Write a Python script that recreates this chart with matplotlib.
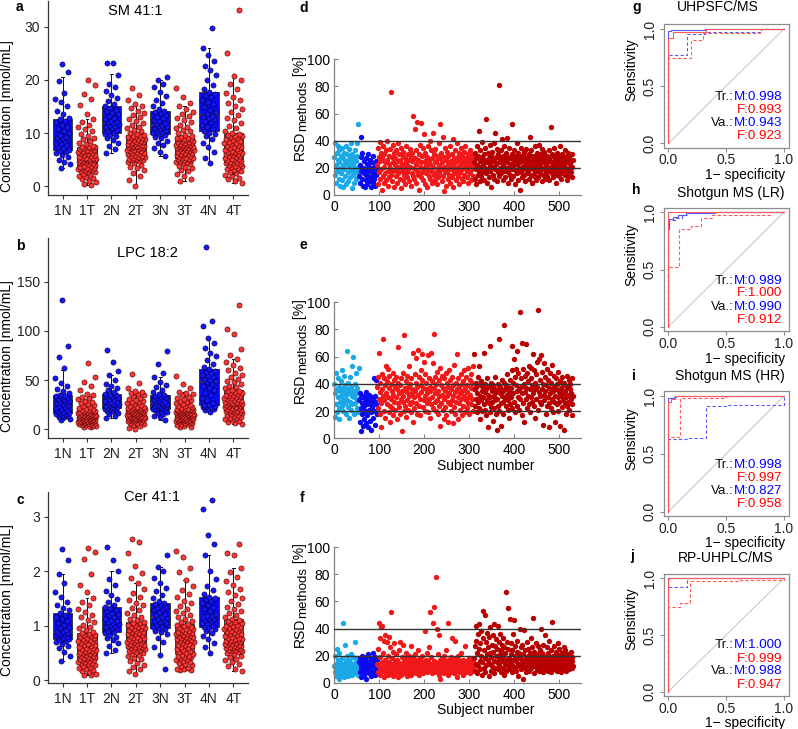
import numpy as np
import matplotlib.pyplot as plt

plt.rcParams['font.family'] = ['Liberation Sans', 'DejaVu Sans']
plt.rcParams['font.size'] = 10

# ---------------- data ----------------
groups = ['1N', '1T', '2N', '2T', '3N', '3T', '4N', '4T']

# panel a: SM 41:1
a1N = [3.4, 4.1, 4.6, 5.0, 5.5, 5.9, 6.2, 6.5, 6.7, 6.9, 7.1, 7.4, 7.7, 8.0, 8.2, 8.5, 8.7, 8.9, 9.0, 9.1,
       9.3, 9.7, 10.0, 10.4, 10.8, 11.2, 11.6, 12.0, 12.3, 12.6, 12.9, 13.5, 14.2, 15.0, 15.8, 16.4, 17.5, 19.8, 21.4, 23.0]
a1T = [0.2, 0.5, 0.8, 1.0, 1.3, 1.5, 1.8, 2.0, 2.2, 2.4, 2.6, 2.7, 2.9, 3.0, 3.1, 3.2, 3.3, 3.4, 3.5, 3.5,
       3.6, 3.8, 3.9, 4.0, 4.1, 4.3, 4.4, 4.5, 4.6, 4.7, 4.8, 4.9, 5.0, 5.0, 5.1, 5.1, 5.2, 5.2, 5.3, 5.3,
       5.4, 5.5, 5.7, 5.8, 5.9, 6.0, 6.2, 6.3, 6.4, 6.5, 6.6, 6.7, 6.8, 6.9, 7.0, 7.1, 7.2, 7.3, 7.3, 7.4,
       7.6, 7.9, 8.2, 8.5, 8.8, 9.1, 9.5, 9.9, 10.3, 10.7, 11.1, 11.6, 12.1, 12.6, 13.5, 15.2, 16.4, 17.3, 19.1, 20.0]
a2N = [6.2, 7.0, 7.6, 8.2, 8.7, 9.1, 9.4, 9.7, 9.9, 10.1, 10.3, 10.6, 10.9, 11.1, 11.3, 11.5, 11.7, 11.9, 12.0, 12.1,
       12.3, 12.6, 12.9, 13.2, 13.5, 13.8, 14.1, 14.4, 14.7, 15.0, 15.4, 16.0, 16.6, 17.2, 17.9, 18.6, 19.3, 21.0, 23.1, 23.2]
a2T = [0.0, 1.2, 1.9, 2.5, 3.0, 3.4, 3.7, 4.0, 4.3, 4.5, 4.7, 4.9, 5.0, 5.1, 5.2, 5.3, 5.4, 5.5, 5.5, 5.6,
       5.7, 5.8, 6.0, 6.1, 6.2, 6.3, 6.5, 6.6, 6.7, 6.8, 6.9, 7.0, 7.1, 7.2, 7.3, 7.4, 7.4, 7.5, 7.5, 7.6,
       7.7, 7.8, 7.9, 8.0, 8.1, 8.2, 8.3, 8.4, 8.5, 8.6, 8.7, 8.8, 8.9, 9.0, 9.1, 9.2, 9.3, 9.4, 9.5, 9.6,
       9.8, 10.0, 10.3, 10.6, 10.9, 11.2, 11.5, 11.9, 12.2, 12.6, 13.0, 13.4, 13.8, 14.2, 14.7, 15.1, 15.5, 16.3, 17.1, 18.4]
a3N = [5.6, 6.4, 7.1, 7.7, 8.2, 8.6, 9.0, 9.3, 9.6, 9.8, 10.0, 10.2, 10.4, 10.6, 10.8, 11.0, 11.1, 11.3, 11.4, 11.5,
       11.7, 11.9, 12.2, 12.5, 12.8, 13.1, 13.4, 13.7, 13.9, 14.1, 14.5, 15.0, 15.6, 16.3, 17.0, 17.8, 18.6, 19.3, 19.9, 20.6]
a3T = [0.9, 1.4, 1.9, 2.4, 2.8, 3.1, 3.4, 3.7, 3.9, 4.1, 4.3, 4.5, 4.6, 4.8, 4.9, 5.0, 5.1, 5.2, 5.3, 5.3,
       5.4, 5.5, 5.7, 5.8, 5.9, 6.0, 6.1, 6.2, 6.3, 6.5, 6.6, 6.7, 6.8, 6.9, 7.0, 7.1, 7.1, 7.2, 7.2, 7.3,
       7.4, 7.5, 7.6, 7.7, 7.7, 7.8, 7.9, 8.0, 8.1, 8.2, 8.3, 8.4, 8.5, 8.6, 8.7, 8.8, 8.8, 8.9, 9.0, 9.0,
       9.2, 9.4, 9.7, 10.0, 10.3, 10.6, 10.9, 11.2, 11.6, 12.0, 12.4, 12.8, 13.2, 13.6, 14.0, 14.5, 15.0, 15.6, 16.8, 18.5]
a4N = [4.3, 5.3, 6.4, 7.3, 8.1, 8.8, 9.4, 9.8, 10.1, 10.4, 10.8, 11.2, 11.6, 12.0, 12.3, 12.6, 12.9, 13.1, 13.3, 13.5,
       13.9, 14.4, 14.9, 15.4, 15.9, 16.3, 16.7, 17.1, 17.4, 17.7, 18.3, 19.1, 20.0, 20.9, 21.8, 22.6, 23.5, 24.6, 25.9, 29.8]
a4T = [0.7, 1.0, 1.3, 1.6, 1.9, 2.2, 2.5, 2.7, 2.9, 3.1, 3.3, 3.5, 3.6, 3.8, 3.9, 4.0, 4.1, 4.3, 4.4, 4.5,
       4.6, 4.7, 4.9, 5.0, 5.1, 5.2, 5.4, 5.5, 5.6, 5.7, 5.9, 6.0, 6.1, 6.2, 6.3, 6.4, 6.5, 6.6, 6.7, 6.8,
       7.0, 7.1, 7.3, 7.4, 7.6, 7.8, 7.9, 8.1, 8.2, 8.4, 8.6, 8.7, 8.9, 9.1, 9.2, 9.4, 9.5, 9.7, 9.8, 10.0,
       10.4, 10.9, 11.4, 11.9, 12.4, 12.9, 13.4, 13.9, 14.5, 15.0, 15.6, 16.2, 16.8, 17.5, 18.3, 19.2, 20.0, 20.7, 25.1, 33.2]
a_med = [9.14, 5.26, 12.1, 7.6, 11.46, 7.3, 13.46, 6.83]
a_q1 = [6.9, 3.5, 10.1, 5.6, 9.83, 5.3, 10.4, 4.5]
a_q3 = [12.65, 7.4, 15.0, 9.6, 14.15, 9.0, 17.66, 9.96]
a_lo = [3.4, 0.2, 6.2, 0.0, 5.6, 0.9, 4.3, 0.7]
a_hi = [20.5, 12.6, 21.1, 15.5, 20.0, 15.0, 26.0, 20.7]

# panel b: LPC 18:2
b1N = [9.5, 10.8, 12.0, 13.0, 13.9, 14.7, 15.4, 16.0, 16.5, 16.9, 17.8, 18.8, 19.8, 20.8, 21.8, 22.8, 23.8, 24.8, 25.6, 26.4,
       27.3, 28.2, 29.1, 30.0, 30.9, 31.8, 32.7, 33.5, 34.2, 34.9, 36.5, 38.5, 41.0, 44.0, 47.0, 52.0, 62.0, 73.0, 85.0, 131.0]
b1T = [2.0, 2.6, 3.2, 3.7, 4.2, 4.6, 5.0, 5.4, 5.8, 6.1, 6.4, 6.7, 7.0, 7.3, 7.6, 7.8, 8.0, 8.2, 8.4, 8.5,
       8.8, 9.1, 9.4, 9.7, 10.0, 10.3, 10.6, 10.9, 11.2, 11.5, 11.8, 12.1, 12.4, 12.6, 12.8, 13.0, 13.2, 13.3, 13.4, 13.5,
       13.8, 14.1, 14.4, 14.7, 15.0, 15.3, 15.6, 15.9, 16.2, 16.5, 16.8, 17.1, 17.4, 17.7, 18.0, 18.3, 18.6, 18.9, 19.2, 19.6,
       20.3, 21.1, 22.0, 22.9, 23.8, 24.8, 25.8, 26.9, 28.0, 29.2, 30.5, 31.8, 33.2, 34.6, 36.0, 40.0, 44.0, 48.0, 53.0, 67.0]
b2N = [11.0, 13.5, 15.5, 17.0, 18.2, 19.0, 19.8, 20.4, 20.9, 21.3, 21.9, 22.5, 23.1, 23.7, 24.3, 24.9, 25.5, 26.1, 26.8, 27.4,
       28.2, 29.1, 30.0, 30.9, 31.8, 32.7, 33.6, 34.4, 35.2, 35.9, 37.5, 39.5, 41.5, 44.0, 46.5, 50.0, 55.0, 59.0, 68.0, 81.0]
b2T = [0.0, 1.8, 3.0, 4.2, 5.2, 6.0, 6.8, 7.5, 8.1, 8.6, 9.0, 9.4, 9.8, 10.1, 10.4, 10.6, 10.8, 11.0, 11.1, 11.2,
       11.5, 11.8, 12.1, 12.4, 12.7, 13.0, 13.3, 13.6, 13.9, 14.2, 14.5, 14.8, 15.1, 15.4, 15.7, 16.0, 16.3, 16.5, 16.7, 16.9,
       17.2, 17.5, 17.8, 18.1, 18.4, 18.7, 19.0, 19.3, 19.6, 19.9, 20.2, 20.5, 20.8, 21.1, 21.4, 21.6, 21.8, 22.0, 22.2, 22.4,
       23.1, 23.9, 24.7, 25.5, 26.4, 27.3, 28.2, 29.2, 30.2, 31.2, 32.3, 33.4, 34.6, 35.8, 37.0, 38.2, 39.0, 42.0, 47.0, 56.0]
b3N = [9.5, 12.0, 14.0, 15.8, 17.0, 18.0, 18.8, 19.4, 19.9, 20.3, 20.9, 21.5, 22.1, 22.7, 23.3, 23.9, 24.5, 25.1, 25.8, 26.4,
       27.2, 28.1, 29.0, 29.9, 30.8, 31.7, 32.5, 33.2, 33.9, 34.5, 36.0, 38.0, 40.0, 42.5, 45.0, 48.5, 53.0, 57.0, 66.0, 80.0]
b3T = [2.0, 2.8, 3.6, 4.3, 5.0, 5.6, 6.2, 6.7, 7.2, 7.6, 8.0, 8.4, 8.7, 9.0, 9.3, 9.5, 9.7, 9.9, 10.1, 10.2,
       10.5, 10.8, 11.1, 11.4, 11.7, 12.0, 12.3, 12.6, 12.9, 13.2, 13.5, 13.8, 14.1, 14.4, 14.7, 15.0, 15.2, 15.4, 15.5, 15.6,
       15.9, 16.2, 16.5, 16.8, 17.1, 17.4, 17.7, 18.0, 18.3, 18.6, 18.9, 19.2, 19.4, 19.6, 19.8, 20.0, 20.3, 20.5, 20.8, 21.0,
       21.7, 22.5, 23.3, 24.1, 25.0, 25.9, 26.8, 27.8, 28.8, 29.8, 30.9, 32.0, 33.2, 34.4, 35.6, 36.8, 38.0, 42.0, 46.0, 54.0]
b4N = [18.0, 19.5, 20.5, 21.5, 22.3, 23.0, 23.6, 24.0, 24.4, 24.7, 27.0, 29.5, 32.0, 34.5, 37.0, 39.5, 42.0, 44.0, 46.0, 47.7,
       49.0, 50.3, 51.6, 52.9, 54.2, 55.5, 56.8, 58.1, 59.5, 61.0, 63.5, 66.5, 70.0, 74.0, 78.0, 83.0, 88.0, 92.4, 105.0, 110.0, 185.0]
b4T = [5.0, 6.2, 7.3, 8.3, 9.3, 10.2, 11.0, 11.8, 12.6, 13.4, 14.1, 14.8, 15.5, 16.1, 16.7, 17.2, 17.7, 18.2, 18.6, 19.0,
       19.5, 20.0, 20.5, 21.0, 21.5, 22.0, 22.5, 23.0, 23.5, 24.0, 24.5, 25.0, 25.4, 25.8, 26.2, 26.5, 26.8, 27.0, 27.2, 27.4,
       28.0, 28.6, 29.2, 29.8, 30.4, 31.0, 31.6, 32.2, 32.8, 33.4, 34.0, 34.6, 35.2, 35.8, 36.4, 37.0, 37.8, 38.5, 39.2, 40.0,
       41.5, 43.0, 44.5, 46.0, 47.8, 49.6, 51.5, 53.5, 55.5, 57.7, 60.0, 62.5, 65.0, 68.0, 71.5, 76.0, 82.0, 97.0, 102.0, 126.0]
b_med = [26.4, 13.5, 27.4, 16.9, 26.4, 15.6, 47.7, 27.4]
b_q1 = [16.9, 8.5, 21.3, 11.2, 20.3, 10.2, 24.7, 19.0]
b_q3 = [34.9, 19.6, 35.9, 22.4, 34.5, 21.0, 61.0, 40.0]
b_lo = [9.5, 2.0, 11.0, 0.0, 9.5, 2.0, 18.0, 5.0]
b_hi = [60.0, 36.0, 55.0, 39.0, 53.0, 38.0, 92.4, 71.5]

# panel c: Cer 41:1
c1N = [0.35, 0.45, 0.52, 0.58, 0.62, 0.66, 0.69, 0.71, 0.73, 0.75, 0.77, 0.79, 0.80, 0.82, 0.83, 0.84, 0.85, 0.87, 0.88, 0.89,
       0.92, 0.95, 0.98, 1.01, 1.05, 1.08, 1.12, 1.16, 1.20, 1.24, 1.28, 1.33, 1.38, 1.44, 1.52, 1.62, 1.78, 1.95, 2.20, 2.40]
c1T = [0.09, 0.10, 0.12, 0.14, 0.16, 0.18, 0.20, 0.22, 0.24, 0.26, 0.28, 0.29, 0.31, 0.32, 0.33, 0.34, 0.35, 0.36, 0.37, 0.38,
       0.39, 0.40, 0.41, 0.42, 0.43, 0.44, 0.45, 0.46, 0.47, 0.48, 0.49, 0.50, 0.51, 0.52, 0.53, 0.54, 0.55, 0.56, 0.57, 0.58,
       0.59, 0.61, 0.62, 0.64, 0.65, 0.67, 0.68, 0.70, 0.71, 0.72, 0.74, 0.75, 0.77, 0.78, 0.79, 0.81, 0.82, 0.83, 0.85, 0.86,
       0.89, 0.92, 0.95, 0.98, 1.02, 1.06, 1.10, 1.15, 1.20, 1.25, 1.31, 1.38, 1.44, 1.50, 1.62, 1.75, 1.95, 2.22, 2.35, 2.42]
c2N = [0.49, 0.56, 0.62, 0.68, 0.73, 0.77, 0.80, 0.83, 0.86, 0.89, 0.91, 0.93, 0.95, 0.97, 0.99, 1.01, 1.03, 1.05, 1.07, 1.08,
       1.10, 1.13, 1.16, 1.19, 1.21, 1.24, 1.27, 1.29, 1.32, 1.34, 1.38, 1.43, 1.49, 1.56, 1.64, 1.74, 1.86, 2.00, 2.20, 2.45]
c2T = [0.12, 0.16, 0.20, 0.24, 0.28, 0.32, 0.35, 0.38, 0.41, 0.44, 0.46, 0.48, 0.50, 0.52, 0.54, 0.55, 0.56, 0.57, 0.58, 0.59,
       0.60, 0.61, 0.62, 0.63, 0.64, 0.65, 0.66, 0.67, 0.68, 0.69, 0.70, 0.71, 0.72, 0.73, 0.74, 0.75, 0.76, 0.77, 0.78, 0.80,
       0.81, 0.82, 0.84, 0.85, 0.86, 0.88, 0.89, 0.90, 0.92, 0.93, 0.94, 0.96, 0.97, 0.98, 1.00, 1.01, 1.02, 1.04, 1.05, 1.07,
       1.10, 1.13, 1.16, 1.20, 1.24, 1.28, 1.32, 1.37, 1.42, 1.47, 1.53, 1.60, 1.68, 1.79, 1.88, 1.96, 2.10, 2.33, 2.54, 2.60]
c3N = [0.20, 0.46, 0.60, 0.70, 0.78, 0.84, 0.88, 0.91, 0.93, 0.95, 0.98, 1.00, 1.02, 1.04, 1.06, 1.08, 1.10, 1.12, 1.14, 1.16,
       1.19, 1.22, 1.25, 1.28, 1.30, 1.32, 1.35, 1.37, 1.40, 1.42, 1.46, 1.51, 1.57, 1.63, 1.70, 1.78, 1.88, 2.00, 2.08, 2.30]
c3T = [0.18, 0.19, 0.20, 0.21, 0.23, 0.25, 0.27, 0.29, 0.31, 0.33, 0.35, 0.37, 0.39, 0.40, 0.42, 0.43, 0.44, 0.45, 0.46, 0.47,
       0.49, 0.51, 0.53, 0.55, 0.57, 0.59, 0.61, 0.62, 0.64, 0.65, 0.67, 0.68, 0.70, 0.71, 0.72, 0.73, 0.75, 0.76, 0.77, 0.78,
       0.79, 0.80, 0.81, 0.82, 0.83, 0.84, 0.85, 0.86, 0.87, 0.88, 0.89, 0.90, 0.92, 0.93, 0.94, 0.96, 0.97, 0.99, 1.01, 1.03,
       1.06, 1.09, 1.12, 1.15, 1.19, 1.23, 1.27, 1.31, 1.36, 1.41, 1.46, 1.52, 1.58, 1.65, 1.73, 1.84, 1.98, 2.05, 2.27, 2.37]
c4N = [0.50, 0.60, 0.68, 0.75, 0.81, 0.86, 0.90, 0.93, 0.95, 0.97, 1.00, 1.03, 1.05, 1.08, 1.10, 1.12, 1.14, 1.15, 1.17, 1.18,
       1.22, 1.26, 1.30, 1.34, 1.38, 1.42, 1.45, 1.48, 1.51, 1.53, 1.58, 1.65, 1.73, 1.85, 2.00, 2.30, 2.50, 2.67, 3.15, 3.30]
c4T = [0.17, 0.21, 0.25, 0.29, 0.33, 0.36, 0.39, 0.42, 0.45, 0.47, 0.49, 0.51, 0.53, 0.54, 0.55, 0.56, 0.57, 0.58, 0.59, 0.60,
       0.61, 0.62, 0.63, 0.64, 0.65, 0.66, 0.67, 0.68, 0.69, 0.70, 0.71, 0.72, 0.73, 0.74, 0.75, 0.76, 0.77, 0.78, 0.80, 0.81,
       0.82, 0.84, 0.85, 0.87, 0.88, 0.90, 0.91, 0.93, 0.94, 0.96, 0.97, 0.99, 1.00, 1.02, 1.04, 1.05, 1.07, 1.09, 1.11, 1.13,
       1.16, 1.19, 1.23, 1.27, 1.31, 1.35, 1.40, 1.45, 1.50, 1.56, 1.62, 1.68, 1.75, 1.82, 1.90, 1.98, 2.05, 2.30, 2.33, 2.50]
c_med = [0.89, 0.58, 1.08, 0.80, 1.16, 0.78, 1.18, 0.81]
c_q1 = [0.75, 0.38, 0.89, 0.59, 0.95, 0.47, 0.97, 0.60]
c_q3 = [1.24, 0.86, 1.34, 1.07, 1.42, 1.03, 1.53, 1.13]
c_lo = [0.35, 0.09, 0.49, 0.12, 0.46, 0.18, 0.50, 0.17]
c_hi = [1.95, 1.50, 2.00, 1.79, 2.08, 1.84, 2.30, 2.05]

# panel d: RSD methods (%) per subject, in subject order
d_lb = [28, 15, 38, 22, 9, 31, 18, 26, 36, 12, 24, 33, 7, 20, 29, 16, 35, 11, 27, 22,
        6, 31, 19, 25, 14, 36, 8, 23, 30, 17, 26, 10, 34, 21, 28, 13, 24, 38, 18, 5,
        30, 15, 22, 27, 9, 33, 19, 25, 12, 29, 38, 17, 52, 21, 14]
d_b = [14, 22, 9, 43, 18, 28, 12, 31, 7, 20, 16, 25, 6, 19, 11, 27, 15, 23, 8, 30,
       17, 13, 21, 10, 26, 18, 6, 24, 14, 20, 9, 29, 16, 12, 22, 7, 19, 25, 15, 21]
d_r = [22, 35, 8, 28, 17, 39, 12, 25, 31, 19, 4, 27, 14, 36, 21, 9, 30, 24, 16, 33,
       11, 26, 40, 18, 7, 29, 23, 13, 34, 20, 76, 15, 28, 10, 37, 24, 18, 31, 6, 22,
       27, 14, 33, 19, 9, 25, 38, 16, 21, 30, 12, 26, 5, 35, 18, 23, 29, 11, 32, 20,
       15, 27, 8, 24, 36, 17, 22, 13, 30, 19, 26, 10, 34, 21, 7, 28, 16, 25, 31, 14,
       58, 20, 12, 27, 49, 23, 9, 33, 18, 54, 26, 15, 30, 4, 21, 37, 13, 24, 53, 17,
       29, 11, 35, 20, 45, 25, 8, 31, 16, 22, 28, 6, 36, 19, 14, 26, 40, 12, 23, 33,
       18, 9, 27, 21, 46, 15, 30, 24, 11, 34, 17, 25, 8, 29, 20, 13, 38, 22, 16, 27,
       52, 19, 31, 10, 24, 43, 14, 28, 3, 21, 35, 17, 26, 7, 32, 18, 23, 12, 29, 20,
       15, 36, 9, 25, 19, 30, 13, 22, 41, 6, 27, 16, 33, 20, 11, 24, 38, 18, 28, 14,
       21, 31, 8, 26, 17, 35, 23, 12, 29, 19, 25, 10, 32, 15, 22, 36, 20, 27, 13, 24,
       18, 30, 9, 26, 21, 33, 16, 23, 28, 11, 19, 25, 14, 30, 22]
d_dr = [24, 12, 31, 19, 27, 8, 36, 22, 15, 29, 47, 18, 25, 10, 33, 21, 14, 28, 39, 17,
        23, 30, 11, 26, 20, 35, 16, 56, 24, 9, 31, 19, 27, 13, 37, 22, 18, 29, 6, 25,
        32, 15, 21, 38, 12, 26, 46, 19, 28, 23, 10, 34, 17, 30, 81, 24, 14, 27, 20, 33,
        16, 41, 25, 11, 29, 22, 36, 18, 26, 13, 31, 20, 42, 24, 9, 28, 17, 35, 21, 15,
        27, 23, 12, 30, 52, 19, 26, 14, 33, 22, 8, 29, 18, 25, 38, 16, 23, 11, 31, 20,
        27, 4, 24, 35, 17, 21, 29, 13, 26, 19, 32, 15, 23, 10, 28, 20, 34, 16, 25, 22,
        18, 30, 12, 27, 43, 21, 15, 33, 24, 9, 29, 19, 26, 14, 36, 22, 17, 28, 11, 31,
        20, 25, 13, 37, 23, 16, 30, 18, 27, 21, 10, 34, 24, 15, 28, 19, 32, 12, 26, 22,
        17, 29, 14, 24, 20, 33, 11, 27, 18, 25, 50, 21, 16, 30, 23, 13, 28, 19, 35, 15,
        26, 22, 9, 31, 18, 24, 20, 29, 14, 27, 36, 17, 23, 12, 30, 21, 25, 16, 28, 19,
        22, 33, 15, 26, 20, 11, 29, 24, 18, 31, 27, 14, 23, 20, 25, 17, 30, 21, 13, 26]

# panel e
e_lb = [40, 16, 33, 48, 25, 36, 19, 44, 30, 22, 38, 14, 35, 27, 42, 31, 50, 24, 37, 29,
        20, 34, 46, 26, 39, 18, 32, 64, 28, 41, 23, 36, 15, 33, 45, 27, 38, 21, 31, 53,
        25, 35, 60, 30, 18, 40, 26, 33, 48, 22, 37, 29, 19, 34, 52]
e_b = [28, 12, 33, 5, 22, 30, 18, 26, 9, 31, 24, 14, 29, 20, 34, 11, 27, 17, 30, 8,
       25, 21, 32, 13, 28, 19, 26, 6, 30, 23, 15, 29, 44, 20, 27, 10, 31, 25, 43, 18]
e_r = [38, 22, 45, 29, 63, 18, 34, 41, 26, 8, 36, 47, 73, 31, 20, 44, 28, 39, 15, 53,
       33, 25, 42, 30, 51, 19, 37, 46, 24, 12, 40, 29, 35, 22, 48, 17, 32, 43, 27, 38,
       21, 45, 30, 36, 14, 41, 26, 67, 33, 23, 39, 18, 44, 29, 35, 5, 48, 27, 31, 20,
       76, 37, 24, 42, 16, 34, 28, 46, 21, 38, 31, 53, 25, 40, 19, 44, 33, 27, 36, 12,
       63, 30, 22, 47, 35, 41, 26, 59, 18, 38, 65, 32, 45, 24, 29, 17, 39, 50, 34, 62,
       43, 23, 37, 28, 56, 31, 20, 47, 36, 41, 26, 33, 61, 19, 44, 29, 38, 15, 35, 63,
       25, 42, 30, 55, 22, 37, 77, 27, 45, 33, 20, 40, 28, 49, 18, 35, 43, 31, 24, 52,
       9, 39, 26, 46, 32, 21, 37, 14, 44, 29, 35, 23, 48, 17, 41, 31, 27, 12, 38, 50,
       33, 25, 43, 20, 36, 28, 45, 11, 39, 31, 23, 54, 34, 18, 41, 27, 36, 62, 30, 14,
       44, 26, 38, 21, 33, 47, 29, 40, 17, 35, 24, 42, 31, 50, 19, 37, 28, 45, 22, 34,
       39, 26, 52, 30, 18, 43, 32, 25, 47, 37, 41, 29, 53, 20, 36]
e_dr = [62, 36, 24, 41, 29, 38, 19, 33, 45, 27, 53, 22, 39, 31, 14, 42, 28, 35, 20, 37,
        30, 25, 63, 34, 21, 40, 17, 36, 28, 44, 8, 32, 26, 38, 19, 68, 30, 23, 41, 35,
        27, 13, 39, 31, 22, 37, 28, 45, 18, 34, 6, 29, 40, 24, 36, 73, 20, 33, 38, 26,
        9, 43, 31, 27, 35, 18, 41, 83, 29, 36, 24, 39, 47, 32, 21, 28, 38, 15, 34, 43,
        25, 37, 30, 68, 22, 50, 41, 33, 58, 27, 45, 19, 39, 51, 35, 24, 64, 30, 48, 21,
        36, 93, 29, 44, 38, 17, 70, 33, 51, 26, 40, 12, 46, 34, 29, 69, 37, 22, 48, 31,
        42, 25, 53, 36, 19, 44, 30, 52, 27, 39, 62, 33, 50, 24, 41, 36, 15, 47, 29, 38,
        56, 21, 94, 34, 58, 27, 43, 31, 61, 25, 49, 36, 10, 40, 32, 55, 28, 45, 35, 18,
        39, 24, 51, 30, 43, 26, 37, 8, 33, 48, 22, 41, 29, 54, 35, 19, 46, 27, 38, 31,
        12, 36, 44, 25, 40, 30, 20, 49, 34, 27, 42, 9, 37, 31, 23, 45, 28, 39, 33, 6,
        41, 26, 35, 18, 30, 46, 24, 38, 32, 27, 43, 21, 36, 40, 29, 33, 17, 44, 25, 31]

# panel f
f_lb = [12, 20, 8, 14, 5, 25, 10, 17, 7, 13, 3, 22, 9, 15, 11, 6, 18, 12, 8, 44,
        10, 14, 4, 28, 9, 16, 12, 7, 20, 11, 13, 5, 17, 9, 10, 15, 8, 21, 12, 6,
        14, 10, 19, 7, 13, 11, 30, 9, 16, 8, 12, 18, 6, 11, 14]
f_b = [15, 8, 18, 11, 4, 13, 20, 9, 16, 12, 6, 17, 10, 14, 3, 19, 11, 8, 15, 13,
       21, 7, 12, 16, 9, 14, 5, 18, 11, 13, 22, 10, 16, 8, 12, 19, 6, 14, 11, 17]
f_r = [14, 25, 8, 44, 12, 33, 6, 19, 10, 41, 15, 42, 9, 22, 4, 31, 12, 17, 35, 7,
       13, 30, 11, 20, 6, 34, 15, 9, 26, 12, 52, 8, 18, 11, 23, 5, 14, 29, 10, 16,
       7, 13, 21, 9, 17, 12, 4, 15, 24, 8, 11, 30, 14, 6, 19, 10, 13, 28, 9, 16,
       11, 7, 18, 12, 22, 14, 5, 10, 17, 8, 13, 20, 11, 15, 6, 27, 9, 12, 16, 19,
       10, 14, 8, 21, 13, 7, 11, 17, 15, 9, 24, 12, 6, 14, 18, 10, 13, 8, 16, 11,
       20, 12, 7, 15, 9, 38, 14, 11, 17, 13, 8, 22, 10, 16, 12, 26, 52, 9, 14, 11,
       19, 7, 13, 44, 10, 16, 56, 12, 8, 15, 78, 11, 40, 9, 14, 21, 6, 12, 35, 17,
       3, 13, 10, 18, 8, 15, 12, 20, 11, 7, 16, 9, 14, 24, 10, 13, 6, 17, 44, 12,
       9, 15, 11, 19, 8, 14, 33, 10, 16, 12, 7, 13, 31, 11, 18, 9, 15, 4, 12, 20,
       10, 14, 8, 16, 11, 13, 22, 9, 15, 12, 6, 17, 10, 14, 27, 11, 8, 13, 16, 12,
       9, 15, 11, 18, 10, 13, 7, 14, 12, 16, 9, 11, 15, 10, 13]
f_dr = [18, 27, 9, 42, 14, 31, 22, 7, 36, 12, 25, 43, 16, 10, 29, 20, 38, 6, 15, 33,
        53, 11, 24, 18, 50, 8, 30, 13, 21, 37, 17, 26, 5, 34, 14, 22, 41, 9, 19, 28,
        12, 35, 23, 16, 43, 7, 27, 11, 20, 32, 15, 25, 42, 10, 18, 30, 13, 36, 21, 8,
        24, 16, 28, 11, 33, 19, 6, 26, 14, 22, 67, 9, 17, 30, 12, 25, 55, 18, 10, 47,
        15, 29, 21, 8, 24, 13, 36, 17, 11, 46, 20, 27, 9, 16, 23, 12, 31, 18, 5, 22,
        14, 40, 19, 26, 10, 17, 28, 13, 3, 21, 16, 39, 11, 24, 18, 8, 15, 30, 12, 20,
        25, 14, 9, 22, 17, 33, 11, 19, 26, 13, 48, 16, 7, 23, 15, 20, 12, 29, 18, 10,
        21, 14, 27, 9, 17, 24, 13, 19, 11, 40, 16, 22, 8, 28, 15, 12, 20, 35, 18, 10,
        14, 26, 17, 9, 22, 13, 31, 16, 11, 19, 24, 8, 15, 45, 20, 12, 17, 27, 10, 18,
        13, 23, 16, 9, 21, 14, 29, 11, 18, 25, 12, 16, 8, 20, 15, 22, 10, 17, 13, 26,
        19, 11, 24, 14, 9, 18, 16, 21, 12, 15, 20, 10, 17, 13, 23, 14, 11, 16, 19, 12]

# ROC curves: corner points (1-specificity, sensitivity)
g_trM = ([0, 0, 0.02, 0.32, 1], [0, 0.98, 0.995, 1.0, 1.0])
g_trF = ([0, 0, 0.04, 0.33, 1], [0, 0.92, 0.975, 0.997, 1.0])
g_vaM = ([0, 0, 0.16, 0.32, 0.80, 1], [0, 0.77, 0.955, 0.975, 1.0, 1.0])
g_vaF = ([0, 0, 0.20, 0.30, 0.79, 1], [0, 0.75, 0.90, 0.965, 1.0, 1.0])
h_trM = ([0, 0, 0.01, 0.04, 0.08, 0.15, 0.40, 1], [0, 0.85, 0.94, 0.96, 0.975, 0.99, 1.0, 1.0])
h_trF = ([0, 0, 1], [0, 1.0, 1.0])
h_vaM = ([0, 0, 0.06, 0.12, 0.17, 0.40, 1], [0, 0.93, 0.95, 0.98, 0.99, 1.0, 1.0])
h_vaF = ([0, 0, 0.09, 0.20, 0.28, 0.38, 0.88, 1], [0, 0.52, 0.85, 0.88, 0.95, 0.98, 1.0, 1.0])
i_trM = ([0, 0, 0.05, 0.07, 1], [0, 0.98, 0.995, 1.0, 1.0])
i_trF = ([0, 0, 0.02, 0.06, 1], [0, 0.95, 0.97, 1.0, 1.0])
i_vaM = ([0, 0, 0.16, 0.33, 0.50, 1], [0, 0.63, 0.64, 0.91, 0.925, 1.0])
i_vaF = ([0, 0, 0.10, 0.50, 1], [0, 0.65, 0.98, 1.0, 1.0])
j_trM = ([0, 0, 1], [0, 1.0, 1.0])
j_trF = ([0, 0, 0.01, 1], [0, 0.995, 1.0, 1.0])
j_vaM = ([0, 0, 0.16, 1], [0, 0.925, 1.0, 1.0])
j_vaF = ([0, 0, 0.10, 0.19, 0.60, 1], [0, 0.75, 0.78, 0.975, 0.985, 1.0])

roc_titles = ['UHPSFC/MS', 'Shotgun MS (LR)', 'Shotgun MS (HR)', 'RP-UHPLC/MS']
auc_tr_m = ['0.998', '0.989', '0.998', '1.000']
auc_tr_f = ['0.993', '1.000', '0.997', '0.999']
auc_va_m = ['0.943', '0.990', '0.827', '0.988']
auc_va_f = ['0.923', '0.912', '0.958', '0.947']

# ---------------- figure ----------------
W, H = 798, 729
fig = plt.figure(figsize=(W / 100, H / 100), dpi=100)
renderer = fig.canvas.get_renderer()


def px_axes(x0, y0, x1, y1):
    return fig.add_axes([x0 / W, 1 - y1 / H, (x1 - x0) / W, (y1 - y0) / H])


def ftext(x, y, s, **kw):
    return fig.text(x / W, 1 - y / H, s, **kw)


def box_panel(rect, vals, med, q1, q3, lo, hi, ylim, yticks):
    ax = px_axes(*rect)
    for i, v in enumerate(vals):
        pos = i + 1
        normal = i % 2 == 0
        st = [dict(med=med[i], q1=q1[i], q3=q3[i], whislo=lo[i], whishi=hi[i], fliers=[])]
        ax.bxp(st, positions=[pos], widths=0.8, patch_artist=True, showfliers=False,
               manage_ticks=False, capwidths=0.12, zorder=1,
               boxprops=dict(facecolor='#0A0AF5' if normal else '#F04444',
                             edgecolor='#3a3a3a', linewidth=0.7),
               medianprops=dict(color='#3a3a3a', linewidth=1.3),
               whiskerprops=dict(color='#111111', linewidth=0.7),
               capprops=dict(color='#111111', linewidth=0.7))
        v = np.asarray(v, float)
        k = np.arange(len(v))
        spread = 0.30 if normal else 0.37
        jit = ((k * 0.6180339887 + 0.37 * pos) % 1.0 - 0.5) * 2 * spread
        ax.scatter(pos + jit, v, s=14, zorder=3, clip_on=False,
                   c='#1414FF' if normal else '#FF3535',
                   edgecolors='#00002a' if normal else '#3a0000', linewidths=0.4)
    ax.set_xlim(0.4, 8.6)
    ax.set_ylim(*ylim)
    ax.set_xticks(range(1, 9))
    ax.set_xticklabels(groups)
    ax.set_yticks(yticks)
    for s in ['top', 'right']:
        ax.spines[s].set_visible(False)
    for s in ['left', 'bottom']:
        ax.spines[s].set_color('#333333')
        ax.spines[s].set_linewidth(0.9)
    ax.tick_params(axis='x', length=3, width=0.8, color='#333333', pad=3.5, labelsize=10, labelcolor='#222222')
    ax.tick_params(axis='y', length=3, width=0.8, color='#333333', pad=2.5, labelsize=10, labelcolor='#222222')
    return ax


box_panel((48, 0.6, 248, 195.1), [a1N, a1T, a2N, a2T, a3N, a3T, a4N, a4T],
          a_med, a_q1, a_q3, a_lo, a_hi, (-1.66, 34.9), [0, 10, 20, 30])
box_panel((48, 238.2, 248, 438.4), [b1N, b1T, b2N, b2T, b3N, b3T, b4N, b4T],
          b_med, b_q1, b_q3, b_lo, b_hi, (-9.25, 194.25), [0, 50, 100, 150])
box_panel((48, 492.3, 248, 683.3), [c1N, c1T, c2N, c2T, c3N, c3T, c4N, c4T],
          c_med, c_q1, c_q3, c_lo, c_hi, (-0.06, 3.45), [0, 1, 2, 3])

for y, title, ty, tx in [(116.5, 'SM 41:1', 11.3, 135), (356.5, 'LPC 18:2', 253.3, 147.5),
                         (600, 'Cer 41:1', 496.7, 151.7)]:
    ftext(7.5, y, 'Concentration [nmol/mL]', rotation=90, ha='center', va='center', fontsize=10)
    ftext(tx, ty, title, ha='center', va='center', fontsize=10.5)

# RSD panels
rsd_colors = ['#1AA9E6', '#0A0AEE', '#F01818', '#B80000']


def rsd_panel(rect, series, ylab_x, ylab_y0, xlab_y):
    ax = px_axes(*rect)
    start = 1
    for vals, col in zip(series, rsd_colors):
        x = np.arange(start, start + len(vals))
        start += len(vals)
        ax.scatter(x, vals, s=15, c=col, linewidths=0, zorder=2, clip_on=False)
    for yl in (20, 40):
        ax.axhline(yl, color='#333333', lw=1.0, zorder=3)
    ax.set_xlim(0, 548)
    ax.set_ylim(0, 100)
    ax.set_xticks([0, 100, 200, 300, 400, 500])
    ax.set_yticks([0, 20, 40, 60, 80, 100])
    for s in ['top', 'right']:
        ax.spines[s].set_visible(False)
    for s in ['left', 'bottom']:
        ax.spines[s].set_color('#808080')
        ax.spines[s].set_linewidth(0.9)
    ax.tick_params(direction='in', length=3, width=0.8, color='#808080', labelsize=10)
    ax.tick_params(axis='x', pad=3.5)
    ax.tick_params(axis='y', pad=3)
    # y label: RSD + lowered "methods" + [%]
    y = ylab_y0
    for part, size, dx in [('RSD', 10, 0), ('methods', 9.6, 1.8), (' [%]', 10, 0)]:
        t = ftext(ylab_x + dx, y, part, rotation=90, rotation_mode='anchor',
                  ha='left', va='baseline', fontsize=size)
        bb = t.get_window_extent(renderer)
        y = H - bb.y1
    ftext(485.5, xlab_y, 'Subject number', ha='center', va='center', fontsize=10)
    return ax


rsd_panel((334, 59.3, 581, 195), [d_lb, d_b, d_r, d_dr], 304, 160, 222.7)
rsd_panel((334, 302.3, 581, 438.3), [e_lb, e_b, e_r, e_dr], 304, 403, 466)
rsd_panel((334, 547.3, 581, 682.7), [f_lb, f_b, f_r, f_dr], 304, 647, 710)

# ROC panels
roc_boxes = [(663.7, 24.4, 788.6, 147.9), (663.7, 207.7, 788.6, 331.3),
             (663.7, 391.4, 788.6, 516.3), (663.7, 573.8, 788.6, 696.2)]
roc_curves = [(g_trM, g_trF, g_vaM, g_vaF), (h_trM, h_trF, h_vaM, h_vaF),
              (i_trM, i_trF, i_vaM, i_vaF), (j_trM, j_trF, j_vaM, j_vaF)]
title_pos = [(717.5, 6.7), (730.7, 192.5), (730, 375.8), (725.3, 557.5)]
ylab_y = [70, 255, 439, 619]
xlab_y = [175, 358.5, 543.5, 723]
auc_y = [(97.3, 110.3, 123.3, 136.3), (280.5, 293.5, 306.8, 320.2),
         (465.3, 478.2, 491.1, 504), (645.5, 658.5, 671.5, 684.5)]

for n in range(4):
    ax = px_axes(*roc_boxes[n])
    ax.plot([0, 1], [0, 1], color='#c4c4c4', lw=0.7, zorder=1)
    trM, trF, vaM, vaF = roc_curves[n]
    ax.plot(*vaM, drawstyle='steps-post', color='#5a5aff', lw=0.8, ls=(0, (3, 2)), zorder=2)
    ax.plot(*vaF, drawstyle='steps-post', color='#ff5a5a', lw=0.8, ls=(0, (3, 2)), zorder=2)
    ax.plot(*trM, drawstyle='steps-post', color='#5a5aff', lw=0.8, zorder=3)
    ax.plot(*trF, drawstyle='steps-post', color='#ff5a5a', lw=0.8, zorder=3)
    ax.set_xlim(-0.04, 1.04)
    ax.set_ylim(-0.04, 1.04)
    ax.set_xticks([0, 0.5, 1])
    ax.set_xticklabels(['0.0', '0.5', '1.0'])
    ax.set_yticks([0, 0.5, 1])
    ax.set_yticklabels(['0.0', '0.5', '1.0'])
    for lab in ax.get_yticklabels():
        lab.set_rotation(90)
        lab.set_va('center')
    for s in ax.spines.values():
        s.set_color('#8c8c8c')
        s.set_linewidth(0.9)
    ax.tick_params(length=3, width=0.8, color='#8c8c8c', labelsize=10, labelcolor='#222222')
    ax.tick_params(axis='x', pad=1.0)
    ax.tick_params(axis='y', pad=2)
    ftext(title_pos[n][0], title_pos[n][1], roc_titles[n], ha='center', va='center', fontsize=10)
    ftext(631.7, ylab_y[n], 'Sensitivity', rotation=90, ha='center', va='center', fontsize=10)
    ftext(745, xlab_y[n], '1\u2212 specificity', ha='center', va='center', fontsize=10)
    ys = auc_y[n]
    for y, pre, txt, col in [(ys[0], 'Tr.:', 'M:' + auc_tr_m[n], '#0000ff'),
                             (ys[1], '', 'F:' + auc_tr_f[n], '#ff0000'),
                             (ys[2], 'Va.:', 'M:' + auc_va_m[n], '#0000ff'),
                             (ys[3], '', 'F:' + auc_va_f[n], '#ff0000')]:
        t = ftext(782.3, y, txt, color=col, ha='right', va='center', fontsize=9.6)
        if pre:
            bb = t.get_window_extent(renderer)
            ftext(bb.x0, y, pre, color='#111111', ha='right', va='center', fontsize=9.6)

# panel letters
for s, x, y in [('a', 19, 7.3), ('b', 20, 246), ('c', 20, 500), ('d', 303.7, 7.5), ('e', 303, 244.5),
                ('f', 302, 498), ('g', 636.7, 6.5), ('h', 636.7, 190), ('i', 634.3, 375.7), ('j', 632.5, 556)]:
    ftext(x, y, s, ha='center', va='center', fontsize=10, fontweight='bold')

fig.savefig('out.png', dpi=100)
